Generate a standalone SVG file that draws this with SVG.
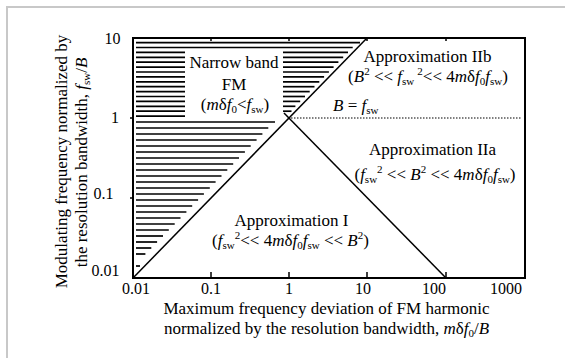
<svg xmlns="http://www.w3.org/2000/svg" width="565" height="358" viewBox="0 0 565 358">
<style>
text{font-family:"Liberation Serif","Times New Roman",serif;fill:#000}
.t{font-size:17px}
.k{font-size:16px}
.i{font-style:italic}
.s{font-size:11px}
.h line{stroke:#000;stroke-width:1.7}
.ln{stroke:#000;stroke-width:1.5;fill:none}
</style>
<rect width="565" height="358" fill="#fff"/>
<path d="M7 358V7H565" fill="none" stroke="#c8c8c8" stroke-width="2"/>

<g id="axes">
<rect x="133" y="38" width="392" height="240" fill="none" stroke="#000" stroke-width="2"/>
<path d="M211 278v-6M289 278v-6M367 278v-6M446 278v-6M211 38v3M289 38v3M367 38v3M446 38v3M130 118h3M130 198h3" stroke="#000" stroke-width="1.5"/>
<g class="k" text-anchor="end">
<text x="120.5" y="43.5">10</text>
<text x="119" y="122.5">1</text>
<text x="113.5" y="198.5">0.1</text>
<text x="119.5" y="275.5">0.01</text>
</g>
<g class="k" text-anchor="middle">
<text x="136" y="294">0.01</text>
<text x="211" y="294">0.1</text>
<text x="289" y="294">1</text>
<text x="363" y="294">10</text>
<text x="434" y="294">100</text>
<text x="506" y="294">1000</text>
</g>
<text class="t" x="326.5" y="313.5" text-anchor="middle">Maximum frequency deviation of FM harmonic</text>
<text class="t" x="326.5" y="333.5" text-anchor="middle">normalized by the resolution bandwidth, <tspan class="i">m</tspan>δ<tspan class="i">f</tspan><tspan class="s" dy="3">0</tspan><tspan dy="-3">/</tspan><tspan class="i">B</tspan></text>
<text class="t" transform="translate(66.5,161.5) rotate(-90)" text-anchor="middle">Modulating frequency normalized by</text>
<text class="t" transform="translate(86.7,162.5) rotate(-90)" text-anchor="middle">the resolution bandwidth, <tspan class="i">f</tspan><tspan class="s" dy="3">sw</tspan><tspan dy="-3">/</tspan><tspan class="i">B</tspan></text>
</g>

<g id="hatch" class="h">
<line x1="136" y1="42.6" x2="360" y2="42.6"/>
<line x1="136" y1="47.5" x2="352.7" y2="47.5"/>
<line x1="136" y1="52.4" x2="185" y2="52.4"/><line x1="283" y1="52.4" x2="348" y2="52.4"/>
<line x1="136" y1="57.3" x2="185" y2="57.3"/><line x1="283" y1="57.3" x2="343.2" y2="57.3"/>
<line x1="136" y1="62.2" x2="185" y2="62.2"/><line x1="283" y1="62.2" x2="338.4" y2="62.2"/>
<line x1="136" y1="67.1" x2="185" y2="67.1"/><line x1="283" y1="67.1" x2="333.6" y2="67.1"/>
<line x1="136" y1="72" x2="185" y2="72"/><line x1="283" y1="72" x2="328.9" y2="72"/>
<line x1="136" y1="76.9" x2="185" y2="76.9"/><line x1="283" y1="76.9" x2="324.1" y2="76.9"/>
<line x1="136" y1="81.8" x2="185" y2="81.8"/><line x1="283" y1="81.8" x2="319.3" y2="81.8"/>
<line x1="136" y1="86.7" x2="185" y2="86.7"/><line x1="283" y1="86.7" x2="314.5" y2="86.7"/>
<line x1="136" y1="91.6" x2="185" y2="91.6"/><line x1="283" y1="91.6" x2="309.7" y2="91.6"/>
<line x1="136" y1="96.5" x2="185" y2="96.5"/><line x1="283" y1="96.5" x2="305" y2="96.5"/>
<line x1="136" y1="101.4" x2="185" y2="101.4"/><line x1="283" y1="101.4" x2="300.2" y2="101.4"/>
<line x1="136" y1="106.3" x2="185" y2="106.3"/><line x1="283" y1="106.3" x2="295.4" y2="106.3"/>
<line x1="136" y1="111.2" x2="185" y2="111.2"/><line x1="283" y1="111.2" x2="291.5" y2="111.2"/>
<line x1="136" y1="116.1" x2="185" y2="116.1"/>
<line x1="136" y1="122" x2="275" y2="122"/>
<line x1="136" y1="128" x2="268.3" y2="128"/>
<line x1="136" y1="134" x2="262.4" y2="134"/>
<line x1="136" y1="140" x2="256.6" y2="140"/>
<line x1="136" y1="146" x2="250.7" y2="146"/>
<line x1="136" y1="152" x2="244.9" y2="152"/>
<line x1="136" y1="158" x2="239" y2="158"/>
<line x1="136" y1="164" x2="233.2" y2="164"/>
<line x1="136" y1="170" x2="227.3" y2="170"/>
<line x1="136" y1="176" x2="221.5" y2="176"/>
<line x1="136" y1="182" x2="215.6" y2="182"/>
<line x1="136" y1="188" x2="209.8" y2="188"/>
<line x1="136" y1="194" x2="203.9" y2="194"/>
<line x1="136" y1="200" x2="198.1" y2="200"/>
<line x1="136" y1="206" x2="192.2" y2="206"/>
<line x1="136" y1="212" x2="186.4" y2="212"/>
<line x1="136" y1="218" x2="180.5" y2="218"/>
<line x1="136" y1="224" x2="174.7" y2="224"/>
<line x1="136" y1="230" x2="168.8" y2="230"/>
<line x1="136" y1="236" x2="163" y2="236"/>
<line x1="136" y1="242" x2="157.1" y2="242"/>
<line x1="136" y1="248" x2="151.3" y2="248"/>
<line x1="136" y1="254" x2="145.4" y2="254"/>
<line x1="136" y1="266" x2="140" y2="266"/>
</g>

<g id="connectors">
<line class="ln" x1="133" y1="278" x2="367" y2="38"/>
<line class="ln" x1="284" y1="113" x2="446" y2="278"/>
<line x1="291" y1="118" x2="521" y2="118" stroke="#000" stroke-width="1.2" stroke-dasharray="1.5 1.5"/>
</g>

<g id="narrow-band" class="t" text-anchor="middle">
<text x="234" y="68">Narrow band</text>
<text x="234" y="89.5">FM</text>
<text x="235" y="110">(<tspan class="i">m</tspan>δ<tspan class="i">f</tspan><tspan class="s" dy="3">0</tspan><tspan dy="-3">&lt;</tspan><tspan class="i">f</tspan><tspan class="s" dy="3">sw</tspan><tspan dy="-3">)</tspan></text>
</g>

<g id="approx-IIb" class="t" text-anchor="middle">
<text x="427.5" y="62">Approximation IIb</text>
<text x="428" y="82">(<tspan class="i">B</tspan><tspan class="s" dy="-7">2</tspan><tspan dy="7"> &lt;&lt; </tspan><tspan class="i">f</tspan><tspan class="s" dy="3">sw</tspan><tspan class="s" dy="-10" dx="3">2</tspan><tspan dy="7">&lt;&lt; 4</tspan><tspan class="i">m</tspan>δ<tspan class="i">f</tspan><tspan class="s" dy="3">0</tspan><tspan class="i" dy="-3">f</tspan><tspan class="s" dy="3">sw</tspan><tspan dy="-3">)</tspan></text>
</g>

<g id="b-eq">
<text class="t" x="333" y="111.3"><tspan class="i">B</tspan> = <tspan class="i">f</tspan><tspan class="s" dy="3">sw</tspan></text>
</g>

<g id="approx-IIa" class="t" text-anchor="middle">
<text x="432.5" y="154.6">Approximation IIa</text>
<text x="435" y="179.6">(<tspan class="i">f</tspan><tspan class="s" dy="3">sw</tspan><tspan class="s" dy="-10">2</tspan><tspan dy="7"> &lt;&lt; </tspan><tspan class="i">B</tspan><tspan class="s" dy="-7">2</tspan><tspan dy="7"> &lt;&lt; 4</tspan><tspan class="i">m</tspan>δ<tspan class="i">f</tspan><tspan class="s" dy="3">0</tspan><tspan class="i" dy="-3">f</tspan><tspan class="s" dy="3">sw</tspan><tspan dy="-3">)</tspan></text>
</g>

<g id="approx-I" class="t" text-anchor="middle">
<text x="291.5" y="226.3">Approximation I</text>
<text x="290.5" y="246.3">(<tspan class="i">f</tspan><tspan class="s" dy="3">sw</tspan><tspan class="s" dy="-10">2</tspan><tspan dy="7">&lt;&lt; 4</tspan><tspan class="i">m</tspan>δ<tspan class="i">f</tspan><tspan class="s" dy="3">0</tspan><tspan class="i" dy="-3">f</tspan><tspan class="s" dy="3">sw</tspan><tspan dy="-3"> &lt;&lt; </tspan><tspan class="i">B</tspan><tspan class="s" dy="-7">2</tspan><tspan dy="7">)</tspan></text>
</g>
</svg>
